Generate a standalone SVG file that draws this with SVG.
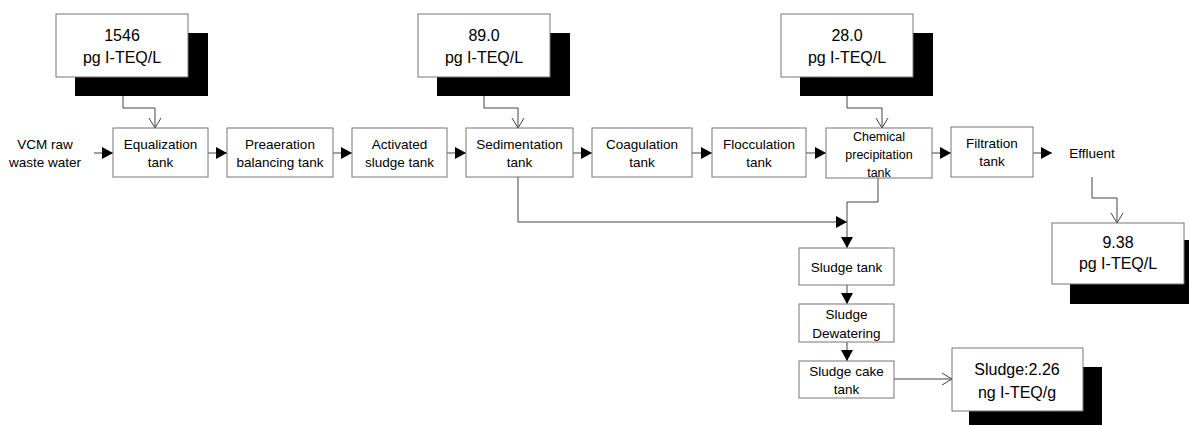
<svg xmlns="http://www.w3.org/2000/svg" width="1189" height="425" viewBox="0 0 1189 425">
<style>
.box{fill:#fff;stroke:#777;stroke-width:1}
.shadow{fill:#000}
.t{font-family:"Liberation Sans",Arial,sans-serif;font-size:13.5px;fill:#000;text-anchor:middle}
.s{font-size:12.5px}
.v{font-size:16px}
.c{fill:none;stroke:#444;stroke-width:1}
.f{marker-end:url(#fa)}
.o{marker-end:url(#oa)}
</style>
<defs>
<marker id="fa" markerUnits="userSpaceOnUse" markerWidth="11" markerHeight="12" refX="11" refY="6" orient="auto" viewBox="0 0 11 12">
<path d="M0,0 L11,6 L0,12 z" fill="#000"/>
</marker>
<marker id="oa" markerUnits="userSpaceOnUse" markerWidth="14" markerHeight="14" refX="11" refY="7" orient="auto" viewBox="0 0 14 14">
<path d="M1,1 L11,7 L1,13" fill="none" stroke="#444" stroke-width="1"/>
</marker>
</defs>
<rect width="1189" height="425" fill="#fff"/>

<g id="connectors">
<polyline class="c o" points="123,96 123,108 155,108 155,128"/>
<polyline class="c o" points="484,96 484,108 518,108 518,128"/>
<polyline class="c o" points="847,96 847,108 882,108 882,128"/>
<polyline class="c o" points="1092,177 1092,198 1117,198 1117,223"/>
<line class="c f" x1="94" y1="153" x2="113" y2="153"/>
<line class="c f" x1="208" y1="153" x2="227" y2="153"/>
<line class="c f" x1="333" y1="153" x2="352" y2="153"/>
<line class="c f" x1="447" y1="153" x2="466" y2="153"/>
<line class="c f" x1="573" y1="153" x2="592" y2="153"/>
<line class="c f" x1="692" y1="153" x2="712" y2="153"/>
<line class="c f" x1="806" y1="153" x2="826" y2="153"/>
<line class="c f" x1="932" y1="153" x2="951" y2="153"/>
<line class="c f" x1="1033" y1="153" x2="1052" y2="153"/>
<polyline class="c f" points="518,177 518,222 847,222"/>
<polyline class="c f" points="878,178 878,202 847,202 847,248"/>
<line class="c f" x1="847" y1="285" x2="847" y2="304"/>
<line class="c f" x1="847" y1="342" x2="847" y2="361"/>
<line class="c o" x1="894" y1="379" x2="952" y2="379"/>
</g>

<g id="v1546">
<rect class="shadow" x="75" y="33" width="133" height="63"/>
<rect class="box" x="56" y="14" width="132" height="63"/>
<text class="t v" x="122" y="41">1546</text>
<text class="t v" x="122" y="63">pg I-TEQ/L</text>
</g>
<g id="v89">
<rect class="shadow" x="437" y="33" width="133" height="63"/>
<rect class="box" x="418" y="14" width="132" height="63"/>
<text class="t v" x="484" y="41">89.0</text>
<text class="t v" x="484" y="63">pg I-TEQ/L</text>
</g>
<g id="v28">
<rect class="shadow" x="800" y="33" width="133" height="63"/>
<rect class="box" x="781" y="14" width="132" height="63"/>
<text class="t v" x="847" y="41">28.0</text>
<text class="t v" x="847" y="63">pg I-TEQ/L</text>
</g>
<g id="v938">
<rect class="shadow" x="1070" y="240" width="133" height="64"/>
<rect class="box" x="1052" y="223" width="132" height="61"/>
<text class="t v" x="1118" y="248">9.38</text>
<text class="t v" x="1118" y="269">pg I-TEQ/L</text>
</g>
<g id="vsludge">
<rect class="shadow" x="969" y="367" width="133" height="63"/>
<rect class="box" x="952" y="348" width="131" height="63"/>
<text class="t v" x="1017" y="375">Sludge:2.26</text>
<text class="t v" x="1017" y="398">ng I-TEQ/g</text>
</g>

<g id="vcm">
<text class="t" x="45" y="149">VCM raw</text>
<text class="t" x="45" y="167">waste water</text>
</g>
<g id="equalization">
<rect class="box" x="113" y="128" width="95" height="49"/>
<text class="t" x="160.5" y="149">Equalization</text>
<text class="t" x="160.5" y="167">tank</text>
</g>
<g id="preaeration">
<rect class="box" x="227" y="128" width="106" height="49"/>
<text class="t" x="280" y="149">Preaeration</text>
<text class="t" x="280" y="167">balancing tank</text>
</g>
<g id="activated">
<rect class="box" x="352" y="128" width="95" height="49"/>
<text class="t" x="399.5" y="149">Activated</text>
<text class="t" x="399.5" y="167">sludge tank</text>
</g>
<g id="sedimentation">
<rect class="box" x="466" y="128" width="107" height="49"/>
<text class="t" x="519.5" y="149">Sedimentation</text>
<text class="t" x="519.5" y="167">tank</text>
</g>
<g id="coagulation">
<rect class="box" x="592" y="128" width="100" height="49"/>
<text class="t" x="642" y="149">Coagulation</text>
<text class="t" x="642" y="167">tank</text>
</g>
<g id="flocculation">
<rect class="box" x="712" y="128" width="94" height="49"/>
<text class="t" x="759" y="149">Flocculation</text>
<text class="t" x="759" y="167">tank</text>
</g>
<g id="chemical">
<rect class="box" x="826" y="128" width="106" height="50"/>
<text class="t s" x="879" y="140.5">Chemical</text>
<text class="t s" x="879" y="158.5">precipitation</text>
<text class="t s" x="879" y="176.5">tank</text>
</g>
<g id="filtration">
<rect class="box" x="951" y="127" width="82" height="50"/>
<text class="t" x="992" y="148">Filtration</text>
<text class="t" x="992" y="166">tank</text>
</g>
<g id="effluent">
<text class="t" x="1092" y="158">Effluent</text>
</g>
<g id="sludgetank">
<rect class="box" x="799" y="248" width="95" height="37"/>
<text class="t" x="846.5" y="271.5">Sludge tank</text>
</g>
<g id="dewatering">
<rect class="box" x="799" y="304" width="95" height="38"/>
<text class="t" x="846.5" y="318.5">Sludge</text>
<text class="t" x="846.5" y="337.5">Dewatering</text>
</g>
<g id="cake">
<rect class="box" x="799" y="361" width="95" height="37"/>
<text class="t" x="846.5" y="375.5">Sludge cake</text>
<text class="t" x="846.5" y="393.5">tank</text>
</g>
</svg>
